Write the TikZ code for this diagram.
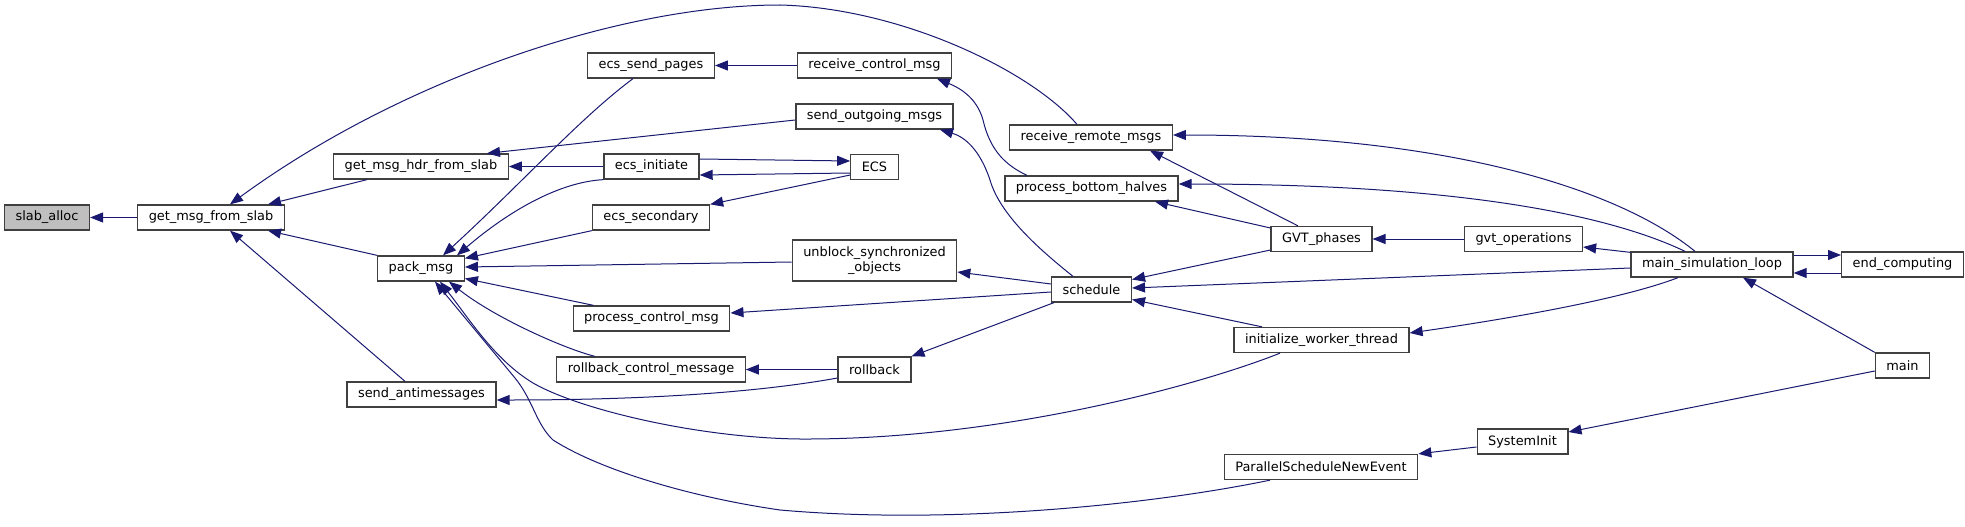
\documentclass[tikz,border=0pt]{standalone}
\usepackage{fontspec}
\setmainfont{DejaVu Sans}
\usetikzlibrary{arrows.meta}
\definecolor{edgeblue}{HTML}{191970}
\definecolor{startgrey}{HTML}{BFBFBF}

\begin{document}
\begin{tikzpicture}[x=1pt, y=-1pt,
  fn/.style={draw=black!75, line width=1.3pt, fill=white, minimum height=25pt,
    inner xsep=11pt, inner ysep=2pt, font=\fontsize{12.9pt}{15.5pt}\selectfont},
  call/.style={edgeblue, line width=1pt, -{Triangle[length=13pt,width=10pt]}}]

  \useasboundingbox (0,0) rectangle (1965,527);

  %% Left: the allocator and the first callers
  \node[fn, fill=startgrey] (slab) at (47,217.5) {slab\_alloc};
  \node[fn] (getmsg) at (211,217.5) {get\_msg\_from\_slab};
  \node[fn] (hdr) at (421,166.5) {get\_msg\_hdr\_from\_slab};
  \node[fn] (pack) at (421,268.5) {pack\_msg};
  \node[fn] (antimsg) at (421.5,394.5) {send\_antimessages};

  %% Middle columns
  \node[fn] (sendpages) at (651,65.5) {ecs\_send\_pages};
  \node[fn] (initiate) at (651.5,166.5) {ecs\_initiate};
  \node[fn] (secondary) at (651,217.5) {ecs\_secondary};
  \node[fn] (procctl) at (651.5,318.5) {process\_control\_msg};
  \node[fn] (rbctl) at (651,369.5) {rollback\_control\_message};

  \node[fn] (recvctl) at (874.5,65.5) {receive\_control\_msg};
  \node[fn] (outgoing) at (874.5,116.5) {send\_outgoing\_msgs};
  \node[fn] (ecs) at (874.5,167) {ECS};
  \node[fn, minimum height=41pt, align=center] (unblock) at (874.5,260.5) {unblock\_synchronized\\\_objects};
  \node[fn] (rollback) at (874.5,369.5) {rollback};

  \node[fn] (recvremote) at (1091,137.5) {receive\_remote\_msgs};
  \node[fn] (bottom) at (1091.5,188.5) {process\_bottom\_halves};
  \node[fn] (schedule) at (1091.5,289.5) {schedule};

  %% Right: threads and the main loop
  \node[fn] (gvtph) at (1321.5,239) {GVT\_phases};
  \node[fn] (initworker) at (1321.5,340) {initialize\_worker\_thread};
  \node[fn] (parallel) at (1321,467) {ParallelScheduleNewEvent};
  \node[fn] (gvtops) at (1523.5,239) {gvt\_operations};
  \node[fn] (sysinit) at (1522.5,441.5) {SystemInit};
  \node[fn] (mainloop) at (1712,264.5) {main\_simulation\_loop};
  \node[fn] (endcomp) at (1902.5,264.5) {end\_computing};
  \node[fn] (main) at (1902.5,365.5) {main};

  %% Calls into slab_alloc and get_msg_from_slab
  \draw[call] (getmsg) -- (slab);
  \draw[call] ([xshift=-14pt]recvremote.north) .. controls (1030,70) and (900,8) .. (780,5)
    .. controls (620,5) and (400,80) .. ([xshift=19pt]getmsg.north);
  \draw[call] ([xshift=-54pt]hdr.south) -- ([xshift=57pt]getmsg.north);
  \draw[call] (pack.north west) -- ([xshift=57pt]getmsg.south);
  \draw[call] ([xshift=-16.5pt]antimsg.north) -- ([xshift=19pt]getmsg.south);

  % get_msg_hdr_from_slab
  \draw[call] ([yshift=-3.5pt]outgoing.west) -- ([xshift=66pt]hdr.north);
  \draw[call] (initiate) -- (hdr);

  %% Calls into pack_msg
  \draw[call] ([xshift=-18pt]sendpages.south) .. controls (580,118) and (520,185) .. ([xshift=22pt]pack.north);
  \draw[call] (initiate.south west) .. controls (560,182) and (510,210) .. ([xshift=36pt]pack.north);
  \draw[call] (secondary.south west) -- ([yshift=-3pt]pack.north east);
  \draw[call] ([yshift=-1.5pt]unblock.west) -- ([yshift=1.5pt]pack.east);
  \draw[call] ([xshift=21pt]procctl.north west) -- ([yshift=-10pt]pack.east);
  \draw[call] ([xshift=-56pt]rbctl.north) .. controls (565,349) and (495,318) .. ([xshift=28pt]pack.south);
  \draw[call] ([xshift=-41.5pt]initworker.south) .. controls (1200,385) and (1000,440) .. (800,439)
    .. controls (700,438) and (580,410) .. (533,383)
    .. controls (495,360) and (470,320) .. ([xshift=19pt]pack.south);
  \draw[call] ([xshift=-51pt]parallel.south) .. controls (1150,505) and (950,525) .. (780,510)
    .. controls (690,497) and (600,470) .. (553,440)
    .. controls (536,424) and (533,400) .. (515,378)
    -- ([xshift=14pt]pack.south);

  % send_antimessages, rollback_control_message, ecs_send_pages
  \draw[call] ([yshift=-8.5pt]rollback.west) .. controls (760,392) and (650,400) .. ([yshift=-5.5pt]antimsg.east);
  \draw[call] (rollback) -- (rbctl);
  \draw[call] (recvctl) -- (sendpages);

  % receive_control_msg, send_outgoing_msgs
  \draw[call] ([xshift=-64.5pt]bottom.north) .. controls (1005,165) and (990,150) .. (983,120)
    .. controls (977,98) and (960,88) .. ([xshift=62.5pt]recvctl.south);
  \draw[call] ([xshift=-18.5pt]schedule.north) .. controls (1040,250) and (1000,215) .. (990,180)
    .. controls (980,150) and (965,137) .. ([xshift=65.5pt]outgoing.south);

  % ECS <-> ecs_initiate
  \draw[call] ([yshift=7.5pt]initiate.east) -- ([yshift=6pt]ecs.west);
  \draw[call] ([yshift=-6pt]ecs.west) -- ([yshift=-8.5pt]initiate.east);
  \draw[call] ([yshift=-8pt]ecs.west) -- (secondary.north east);

  %% Calls made by schedule
  \draw[call] ([yshift=5.5pt]schedule.west) -- ([yshift=-11.5pt]unblock.east);
  \draw[call] ([yshift=-2.5pt]schedule.west) -- ([yshift=5.5pt]procctl.east);
  \draw[call] ([xshift=3pt]schedule.south west) -- (rollback.north east);

  %% Calls into schedule and the receive side
  \draw[call] ([yshift=-11pt]gvtph.west) -- ([yshift=10pt]schedule.east);
  \draw[call] ([yshift=-3.5pt]mainloop.west) -- ([yshift=1.5pt]schedule.east);
  \draw[call] ([xshift=-59.5pt]initworker.north) -- ([yshift=-10pt]schedule.east);
  \draw[call] ([xshift=-23.5pt]gvtph.north) -- ([xshift=59pt]recvremote.south);
  \draw[call] ([xshift=-17pt]mainloop.north) .. controls (1620,190) and (1450,135) .. ([yshift=2.5pt]recvremote.east);
  \draw[call] ([xshift=-27pt]mainloop.north) .. controls (1630,225) and (1500,184) .. ([yshift=4.5pt]bottom.east);
  \draw[call] ([yshift=11pt]gvtph.west) -- ([xshift=63.5pt]bottom.south);

  %% Right: main loop and startup
  \draw[call] (gvtops) -- (gvtph);
  \draw[call] ([yshift=-1pt]mainloop.north west) -- ([yshift=-8pt]gvtops.east);
  \draw[call] ([xshift=-34pt]mainloop.south) .. controls (1620,300) and (1500,320) .. ([yshift=7pt]initworker.east);
  \draw[call] ([yshift=9.5pt]mainloop.east) -- ([yshift=9.5pt]endcomp.west);
  \draw[call] ([yshift=-8.5pt]endcomp.west) -- ([yshift=-8.5pt]mainloop.east);
  \draw[call] (main.north west) -- ([xshift=31pt]mainloop.south);
  \draw[call] ([yshift=-5.5pt]main.west) -- ([yshift=9.5pt]sysinit.east);
  \draw[call] ([yshift=-5.5pt]sysinit.west) -- (parallel.north east);

\end{tikzpicture}
\end{document}
